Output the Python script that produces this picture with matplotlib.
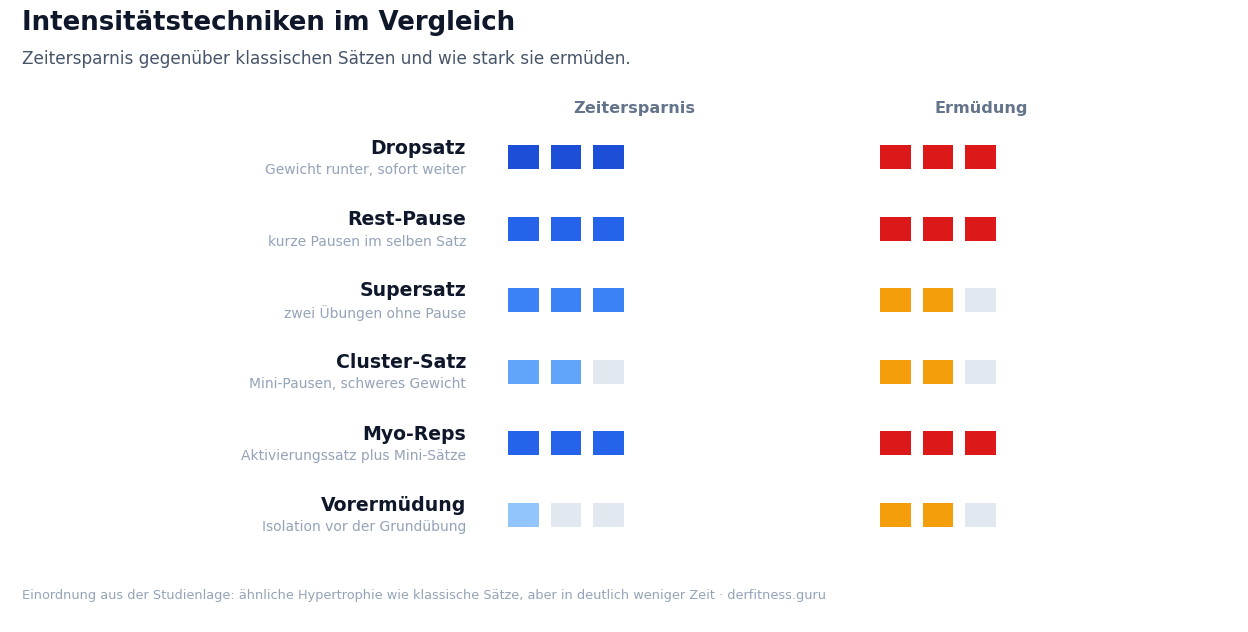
import matplotlib
matplotlib.use("Agg")
import matplotlib.pyplot as plt
from matplotlib.patches import Rectangle

plt.rcParams["font.family"] = ["DejaVu Sans"]

names = ["Dropsatz", "Rest-Pause", "Supersatz", "Cluster-Satz", "Myo-Reps", "Vorermüdung"]
notes = ["Gewicht runter, sofort weiter", "kurze Pausen im selben Satz",
         "zwei Übungen ohne Pause", "Mini-Pausen, schweres Gewicht",
         "Aktivierungssatz plus Mini-Sätze", "Isolation vor der Grundübung"]
zeit = [3, 3, 3, 2, 3, 1]
ermuedung = [3, 3, 2, 2, 3, 2]
zeit_colors = ["#1d4ed8", "#2563eb", "#3b82f6", "#60a5fa", "#2563eb", "#93c5fd"]
fat_colors = {3: "#dc1818", 2: "#f59e0b"}
empty = "#e2e8f0"

fig = plt.figure(figsize=(12.48, 6.32), dpi=100)
ax = fig.add_axes([0, 0, 1, 1])
ax.set_xlim(0, 1248)
ax.set_ylim(632, 0)
ax.axis("off")

fig.text(22 / 1248, 1 - 23 / 632, "Intensitätstechniken im Vergleich", fontsize=18.7,
         fontweight="bold", color="#0f172a", va="center")
fig.text(22 / 1248, 1 - 59 / 632, "Zeitersparnis gegenüber klassischen Sätzen und wie stark sie ermüden.",
         fontsize=12.2, color="#475569", va="center")
fig.text(22 / 1248, 1 - 596 / 632,
         "Einordnung aus der Studienlage: ähnliche Hypertrophie wie klassische Sätze, aber in deutlich weniger Zeit · derfitness.guru",
         fontsize=9.3, color="#94a3b8", va="center")

ax.text(634, 108, "Zeitersparnis", ha="center", va="center", fontsize=11.6, fontweight="bold", color="#64748b")
ax.text(981, 108, "Ermüdung", ha="center", va="center", fontsize=11.6, fontweight="bold", color="#64748b")

row0, step = 157, 71.5
w, h, gap = 30.5, 24, 42.7
for i, name in enumerate(names):
    yc = row0 + i * step
    ax.text(466, yc - 9, name, ha="right", va="center", fontsize=13.6, fontweight="bold", color="#0f172a")
    ax.text(466, yc + 13, notes[i], ha="right", va="center", fontsize=10, color="#94a3b8")
    for k in range(3):
        c = zeit_colors[i] if k < zeit[i] else empty
        ax.add_patch(Rectangle((508 + k * gap, yc - h / 2), w, h, color=c, lw=0))
        c = fat_colors[ermuedung[i]] if k < ermuedung[i] else empty
        ax.add_patch(Rectangle((880 + k * gap, yc - h / 2), w, h, color=c, lw=0))

fig.savefig("out.png", dpi=100, facecolor="white")
